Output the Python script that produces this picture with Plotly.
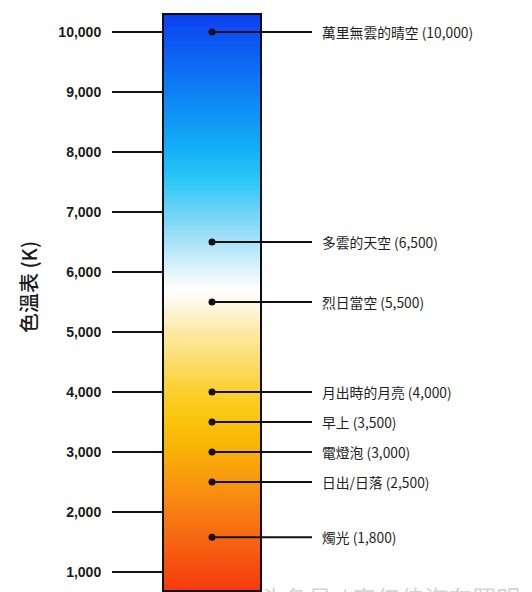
import plotly.graph_objects as go
import numpy as np

# ---- data ----
tick_values = [1000, 2000, 3000, 4000, 5000, 6000, 7000, 8000, 9000, 10000]
tick_labels = ["1,000", "2,000", "3,000", "4,000", "5,000", "6,000", "7,000", "8,000", "9,000", "10,000"]
source_names = ["萬里無雲的晴空", "多雲的天空", "烈日當空", "月出時的月亮", "早上", "電燈泡", "日出/日落", "燭光"]
source_temps = [10000, 6500, 5500, 4000, 3500, 3000, 2500, 1800]
# where each marker is actually drawn on the scale in the reference (candle sits lower than 1,800)
marker_temps = [10000, 6500, 5500, 4000, 3500, 3000, 2500, 1580]
bar_bottom = 683
bar_top = 10300
axis_title = "色溫表 (K)"
watermark = "头条号 / 安亿佳汽车照明"

# gradient colour stops (temperature, colour)
stop_temps = [683, 1000, 1500, 2000, 2500, 3000, 3500, 4000, 4500, 5000, 5400, 5700, 6000, 6500, 7000, 7500, 8000, 9000, 10000, 10300]
stop_colors = ["#f43a0c", "#f54a0e", "#f66412", "#f77e12", "#f8970e", "#f9b006", "#fac40a", "#fbcf2c", "#fcdc6a",
               "#fde9a4", "#fef6dc", "#ffffff", "#e2f5fb", "#a9e2f6", "#6dd3f6", "#2ec8f7", "#14b2f7", "#0d80f5",
               "#0d4ff2", "#0a3ef0"]

# ---- figure ----
W, H = 532, 592
px_per_k = 0.06          # pixels per kelvin
y_at_1000 = 572          # pixel row of the 1,000 tick
def v_of_px(py):
    return 1000 + (y_at_1000 - py) / px_per_k

ymin, ymax = v_of_px(H), v_of_px(0)
bar_x0, bar_x1 = 163, 261
dot_x, line_x1, text_x = 212, 312, 320

lo, hi = stop_temps[0], stop_temps[-1]
colorscale = [[(t - lo) / (hi - lo), c] for t, c in zip(stop_temps, stop_colors)]

n = 300
y_edges = np.linspace(bar_bottom, bar_top, n + 1)
y_centers = (y_edges[:-1] + y_edges[1:]) / 2
z = [[v] for v in y_centers]

fig = go.Figure()
fig.add_trace(go.Heatmap(
    x=[bar_x0, bar_x1], y=y_edges, z=z, colorscale=colorscale, zmin=lo, zmax=hi,
    showscale=False, hoverinfo="skip"))

fig.add_shape(type="rect", xref="x", yref="y", x0=bar_x0, x1=bar_x1, y0=bar_bottom, y1=bar_top,
              line=dict(color="#0f0d1c", width=2), fillcolor="rgba(0,0,0,0)")

# leader lines
lx, ly = [], []
for t in marker_temps:
    lx += [dot_x, line_x1, None]
    ly += [t, t, None]
fig.add_trace(go.Scatter(x=lx, y=ly, mode="lines", line=dict(color="#111111", width=2),
                         hoverinfo="skip", showlegend=False))
fig.add_trace(go.Scatter(x=[dot_x] * len(marker_temps), y=marker_temps, mode="markers",
                         marker=dict(color="#16101c", size=7), hoverinfo="skip", showlegend=False))

for name, t, m in zip(source_names, source_temps, marker_temps):
    fig.add_annotation(x=text_x, y=m, xref="x", yref="y", text=f"{name} ({t:,})", showarrow=False,
                       xanchor="left", yanchor="middle",
                       font=dict(family="Noto Sans CJK TC", size=13.8, color="#1e1e1e"))

fig.add_annotation(x=28 / W, y=v_of_px(287), xref="paper", yref="y", text=axis_title, showarrow=False,
                   textangle=-90, xanchor="center", yanchor="middle",
                   font=dict(family="Noto Sans CJK TC", size=20, color="#1a1a1a", weight=500))

fig.add_annotation(x=258 / W, y=v_of_px(578), xref="paper", yref="y", text=watermark, showarrow=False,
                   xanchor="left", yanchor="top",
                   font=dict(family="Noto Sans CJK SC", size=24, color="#d4d4d4"))

fig.update_layout(
    width=W, height=H, margin=dict(l=0, r=0, t=0, b=0),
    paper_bgcolor="white", plot_bgcolor="white", showlegend=False,
    xaxis=dict(range=[0, W], visible=False, fixedrange=True),
    yaxis=dict(range=[ymin, ymax], anchor="free", position=bar_x0 / W, side="left",
               tickmode="array", tickvals=tick_values, ticktext=tick_labels,
               ticks="outside", ticklen=51, tickwidth=2, tickcolor="#111111",
               ticklabelstandoff=8,
               tickfont=dict(family="Liberation Sans", size=14, color="#1a1a1a", weight="bold"),
               showgrid=False, zeroline=False, showline=False, fixedrange=True),
)

fig.write_html("out.html", config={"displayModeBar": False},
               post_script="document.body.style.margin='0';document.body.style.overflow='hidden';")
